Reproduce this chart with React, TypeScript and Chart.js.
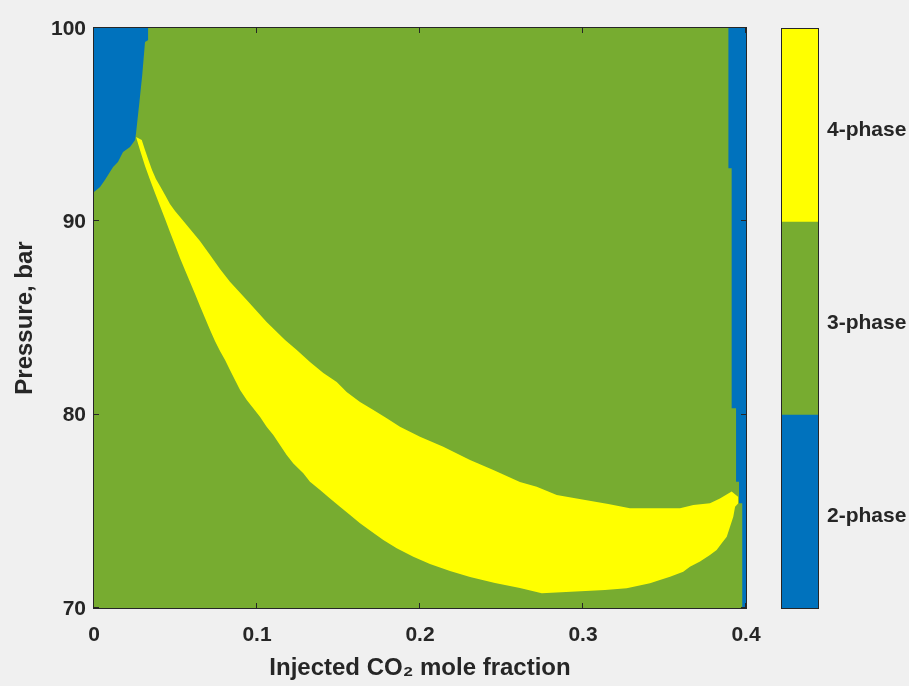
import React, { useEffect, useRef } from 'react';
import { Chart, registerables } from 'chart.js';

Chart.register(...registerables);

// ---- axis ticks & labels ----
const xTicks = [0, 0.1, 0.2, 0.3, 0.4];
const yTicks = [70, 80, 90, 100];
const xTitle = 'Injected CO\u2082 mole fraction';
const yTitle = 'Pressure, bar';

// ---- colour bar (phase classes) ----
const phaseNames = ['2-phase', '3-phase', '4-phase'];
const phaseColors = ['#0072BD', '#77AC30', '#FFFF00'];
const phaseSpan = [1, 1, 1];

// ---- 3-phase background region (whole domain) ----
const threePhaseX = [0, 0.4];
const threePhaseY = [70, 70];

// ---- 4-phase region: upper boundary ----
const fourUpperX = [0.0258, 0.0293, 0.0313, 0.0334, 0.0356, 0.0380, 0.0405, 0.0436, 0.0466, 0.0497,
  0.0528, 0.0589, 0.0650, 0.0712, 0.0773, 0.0834, 0.0937, 0.1059, 0.1172, 0.1244,
  0.1325, 0.1407, 0.1489, 0.1550, 0.1632, 0.1714, 0.1796, 0.1877, 0.2000, 0.2143,
  0.2307, 0.2450, 0.2613, 0.2716, 0.2839, 0.2961, 0.3155, 0.3288, 0.3595, 0.3677,
  0.3779, 0.3840, 0.3912, 0.3953];
const fourUpperY = [94.36, 94.21, 93.69, 93.17, 92.66, 92.19, 91.83, 91.36, 90.90, 90.53,
  90.22, 89.60, 88.98, 88.26, 87.53, 86.88, 85.93, 84.79, 83.86, 83.34,
  82.72, 82.16, 81.69, 81.17, 80.66, 80.24, 79.81, 79.38, 78.86, 78.34,
  77.65, 77.14, 76.52, 76.27, 75.84, 75.67, 75.38, 75.16, 75.16, 75.33,
  75.42, 75.67, 76.02, 75.74];

// ---- 4-phase region: lower boundary ----
const fourLowerX = [0.0258, 0.0282, 0.0313, 0.0344, 0.0374, 0.0405, 0.0436, 0.0466, 0.0497, 0.0528,
  0.0558, 0.0589, 0.0620, 0.0650, 0.0681, 0.0712, 0.0742, 0.0773, 0.0804, 0.0834,
  0.0865, 0.0896, 0.0937, 0.0977, 0.1018, 0.1059, 0.1100, 0.1141, 0.1182, 0.1223,
  0.1284, 0.1325, 0.1387, 0.1448, 0.1509, 0.1571, 0.1632, 0.1704, 0.1775, 0.1857,
  0.1959, 0.2061, 0.2184, 0.2307, 0.2460, 0.2613, 0.2747, 0.3135, 0.3268, 0.3411,
  0.3472, 0.3534, 0.3615, 0.3656, 0.3718, 0.3779, 0.3820, 0.3851, 0.3882, 0.3902,
  0.3922, 0.3933, 0.3953];
const fourLowerY = [94.36, 93.69, 92.86, 92.14, 91.46, 90.79, 90.12, 89.45, 88.78, 88.09,
  87.48, 86.86, 86.24, 85.62, 85.00, 84.38, 83.81, 83.29, 82.83, 82.31,
  81.79, 81.28, 80.76, 80.33, 79.89, 79.38, 78.95, 78.43, 77.91, 77.48,
  76.97, 76.53, 76.10, 75.67, 75.24, 74.81, 74.38, 73.95, 73.52, 73.09,
  72.65, 72.28, 71.91, 71.60, 71.29, 71.03, 70.76, 70.93, 71.02, 71.28,
  71.45, 71.62, 71.88, 72.14, 72.40, 72.74, 73.00, 73.35, 73.69, 74.20,
  74.72, 75.24, 75.42];

// ---- 2-phase region, low CO2 (lower boundary, region above it) ----
const twoLeftX = [0, 0.0037, 0.0067, 0.0117, 0.0147, 0.0178, 0.0221, 0.0252, 0.0258, 0.0278,
  0.0296, 0.0313, 0.0333, 0.0333];
const twoLeftY = [91.52, 91.78, 92.14, 92.81, 93.07, 93.59, 93.84, 94.21, 94.57, 96.12,
  97.57, 99.28, 99.38, 100];

// ---- 2-phase region, high CO2 (stepped lower boundary, region above it) ----
const twoRightX = [0.3891, 0.3912, 0.3939, 0.3957, 0.3977, 0.4];
const twoRightY = [92.74, 80.33, 76.53, 75.42, 70, 70];

const TEXT = '#262626';
const FONT = '"Liberation Sans", Arial, Helvetica, sans-serif';
const BG = '#F0F0F0';

const zip = (xs: number[], ys: number[]) => xs.map((x, i) => ({ x, y: ys[i] }));

const region = (label: string, xs: number[], ys: number[], color: string, fill: any, order: number, extra: any = {}) => ({
  label,
  data: zip(xs, ys),
  fill,
  backgroundColor: color,
  borderColor: 'rgba(0,0,0,0)',
  borderWidth: 0,
  pointRadius: 0,
  pointHoverRadius: 0,
  tension: 0,
  order,
  ...extra,
});

const boxPlugin = {
  id: 'boxOutline',
  afterDraw(chart: any) {
    const { ctx, chartArea } = chart;
    const { left, top, right, bottom } = chartArea;
    ctx.save();
    ctx.strokeStyle = TEXT;
    ctx.lineWidth = 1;
    ctx.strokeRect(left - 0.5, top - 0.5, right - left + 1, bottom - top + 1);
    ctx.restore();
  },
};

const inwardTicksPlugin = {
  id: 'inwardTicks',
  afterDraw(chart: any) {
    const { ctx, chartArea, scales } = chart;
    const { left, top, right, bottom } = chartArea;
    const len = 5;
    ctx.save();
    ctx.strokeStyle = TEXT;
    ctx.lineWidth = 1;
    ctx.beginPath();
    xTicks.forEach((v) => {
      const px = Math.round(scales.x.getPixelForValue(v)) - 0.5;
      ctx.moveTo(px, bottom);
      ctx.lineTo(px, bottom - len);
      ctx.moveTo(px, top);
      ctx.lineTo(px, top + len);
    });
    yTicks.forEach((v) => {
      const py = Math.round(scales.y.getPixelForValue(v)) - 0.5;
      ctx.moveTo(left, py);
      ctx.lineTo(left + len, py);
      ctx.moveTo(right, py);
      ctx.lineTo(right - len, py);
    });
    ctx.stroke();
    ctx.restore();
  },
};

export default function App() {
  const mainRef = useRef<HTMLCanvasElement>(null);
  const barRef = useRef<HTMLCanvasElement>(null);

  useEffect(() => {
    const tickFont = { family: FONT, size: 21, weight: 'bold' as const };
    const titleFont = { family: FONT, size: 24, weight: 'bold' as const };

    const main = new Chart(mainRef.current!, {
      type: 'line',
      data: {
        datasets: [
          region('4-phase', fourUpperX, fourUpperY, phaseColors[2], 1, 0),
          region('4-phase lower bound', fourLowerX, fourLowerY, phaseColors[2], false, 1),
          region('2-phase (low CO2)', twoLeftX, twoLeftY, phaseColors[0], 'end', 2),
          region('2-phase (high CO2)', twoRightX, twoRightY, phaseColors[0], 'end', 3, { stepped: true }),
          region('3-phase', threePhaseX, threePhaseY, phaseColors[1], 'end', 4),
        ] as any,
      },
      options: {
        animation: false,
        responsive: false,
        maintainAspectRatio: false,
        events: [],
        layout: { padding: { left: 0, top: 28, right: 34, bottom: 0 } },
        plugins: {
          legend: { display: false },
          tooltip: { enabled: false },
        },
        scales: {
          x: {
            type: 'linear',
            min: 0,
            max: 0.4,
            afterBuildTicks: (s: any) => {
              s.ticks = xTicks.map((v) => ({ value: v }));
            },
            afterFit: (s: any) => {
              s.height = 78;
            },
            grid: { display: false, drawTicks: false, tickLength: 0 },
            border: { display: false },
            ticks: {
              autoSkip: false,
              maxRotation: 0,
              padding: 15,
              color: TEXT,
              font: tickFont,
              callback: (v: any) => String(v),
            },
            title: {
              display: true,
              text: xTitle,
              color: TEXT,
              font: titleFont,
              padding: { top: 0, bottom: 3 },
            },
          },
          y: {
            type: 'linear',
            min: 70,
            max: 100,
            afterBuildTicks: (s: any) => {
              s.ticks = yTicks.map((v) => ({ value: v }));
            },
            afterFit: (s: any) => {
              s.width = 94;
            },
            grid: { display: false, drawTicks: false, tickLength: 0 },
            border: { display: false },
            ticks: {
              autoSkip: false,
              padding: 8,
              labelOffset: 1,
              color: TEXT,
              font: tickFont,
              callback: (v: any) => String(v),
            },
            title: {
              display: true,
              text: yTitle,
              color: TEXT,
              font: titleFont,
              padding: { top: 11, bottom: 0 },
            },
          },
        },
      } as any,
      plugins: [boxPlugin, inwardTicksPlugin],
    });

    const bar = new Chart(barRef.current!, {
      type: 'bar',
      data: {
        labels: [''],
        datasets: phaseNames.map((name, i) => ({
          label: name,
          data: [phaseSpan[i]],
          backgroundColor: phaseColors[i],
          borderWidth: 0,
          barPercentage: 1,
          categoryPercentage: 1,
        })),
      },
      options: {
        animation: false,
        responsive: false,
        maintainAspectRatio: false,
        events: [],
        layout: { padding: { left: 12, top: 29, bottom: 78, right: 0 } },
        plugins: {
          legend: { display: false },
          tooltip: { enabled: false },
        },
        scales: {
          x: { display: false, stacked: true },
          y: {
            position: 'right',
            stacked: true,
            min: 0,
            max: 3,
            afterBuildTicks: (s: any) => {
              s.ticks = phaseNames.map((_, i) => ({ value: i + 0.5 }));
            },
            afterFit: (s: any) => {
              s.width = 91;
            },
            grid: { display: false, drawTicks: false, tickLength: 0 },
            border: { display: false },
            ticks: {
              autoSkip: false,
              padding: 9,
              labelOffset: 5,
              color: TEXT,
              font: tickFont,
              callback: (_v: any, i: number) => phaseNames[i],
            },
          },
        },
      } as any,
      plugins: [boxPlugin],
    });

    return () => {
      main.destroy();
      bar.destroy();
    };
  }, []);

  return (
    <div style={{ position: 'absolute', left: 0, top: 0, width: 909, height: 686, background: BG, overflow: 'hidden' }}>
      <canvas ref={mainRef} width={780} height={686} style={{ position: 'absolute', left: 0, top: 0, width: 780, height: 686 }} />
      <canvas ref={barRef} width={139} height={686} style={{ position: 'absolute', left: 770, top: 0, width: 139, height: 686 }} />
    </div>
  );
}
